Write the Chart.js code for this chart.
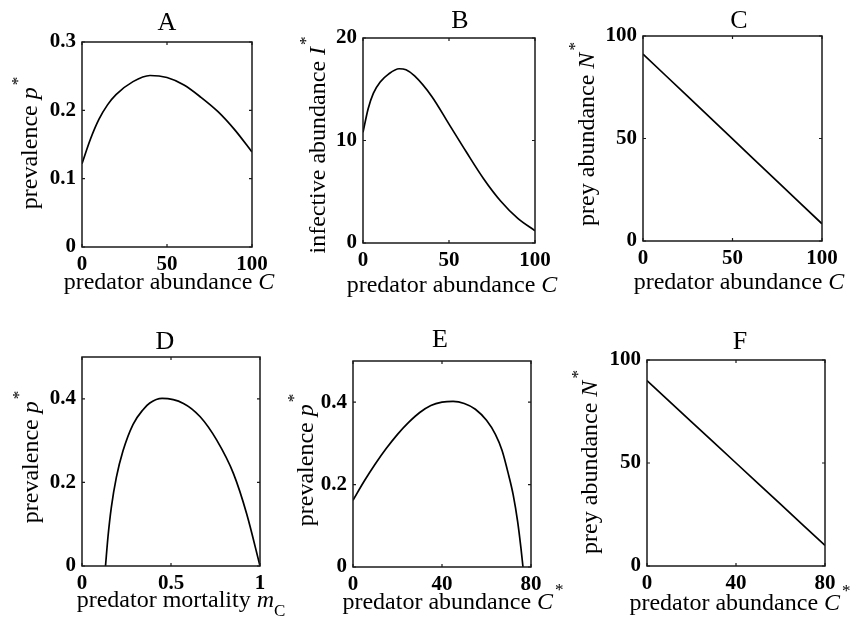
<!DOCTYPE html>
<html>
<head>
<meta charset="utf-8">
<script src="https://cdn.jsdelivr.net/npm/chart.js@4.4.1/dist/chart.umd.min.js"></script>
<style>
    html, body { margin: 0; padding: 0; background: #fff; }
    #wrap { position: relative; width: 859px; height: 623px; }
    #wrap canvas { position: absolute; left: 0; top: 0; }
</style>
</head>
<body>
<div id="wrap">
    <canvas id="pA" width="859" height="623"></canvas>
    <canvas id="pB" width="859" height="623"></canvas>
    <canvas id="pC" width="859" height="623"></canvas>
    <canvas id="pD" width="859" height="623"></canvas>
    <canvas id="pE" width="859" height="623"></canvas>
    <canvas id="pF" width="859" height="623"></canvas>
</div>
<script>
// A: prevalence vs predator abundance
const xA = [0, 5, 10, 15, 20, 30, 40, 50, 60, 70, 80, 90, 100];
const yA = [0.122, 0.158, 0.187, 0.208, 0.223, 0.242, 0.251, 0.248, 0.237, 0.219, 0.198, 0.171, 0.139];
// B: infective abundance vs predator abundance
const xB = [0, 3, 6, 10, 15, 21, 25, 30, 40, 50, 60, 70, 80, 90, 100];
const yB = [10.8, 13.1, 14.6, 15.7, 16.5, 17.0, 16.9, 16.3, 14.3, 11.6, 8.9, 6.3, 4.1, 2.4, 1.2];
// C: prey abundance vs predator abundance
const xC = [0, 25, 50, 75, 100];
const yC = [91.2, 70.5, 49.8, 29.1, 8.4];
// D: prevalence vs predator mortality
const xD = [0.132, 0.146, 0.165, 0.193, 0.23, 0.287, 0.343, 0.381, 0.45, 0.57, 0.664, 0.757, 0.851, 0.925, 1.0];
const yD = [0, 0.07, 0.141, 0.212, 0.275, 0.339, 0.374, 0.39, 0.401, 0.389, 0.357, 0.301, 0.221, 0.125, 0];
// E: prevalence vs equilibrium predator abundance
const xE = [0, 5, 10, 15, 20, 25, 30, 35, 40, 45, 50, 55, 60, 64, 67, 70, 72, 74, 75.5, 76.4];
const yE = [0.162, 0.208, 0.25, 0.288, 0.322, 0.351, 0.375, 0.392, 0.4, 0.402, 0.397, 0.383, 0.356, 0.322, 0.283, 0.222, 0.175, 0.11, 0.045, 0];
// F: prey abundance vs equilibrium predator abundance
const xF = [0, 20, 40, 60, 80];
const yF = [90, 70, 50, 30, 10];

// tick labels
const ticksX100 = [0, 50, 100];
const ticksX80 = [0, 40, 80];
const ticksXm = [0, 0.5, 1];
const ticksYA = [0, 0.1, 0.2, 0.3];
const ticksYB = [0, 10, 20];
const ticksY100 = [0, 50, 100];
const ticksYp = [0, 0.2, 0.4];

const SERIF = '"Liberation Serif", "Times New Roman", serif';
const Y_AXIS_W = 50;
const X_AXIS_H = 35;

// draws text made of pieces: n = normal, i = italic, sup / sub = small
function drawRich(ctx, segs, x, y, rotated) {
    const fonts = {
        n: '24px ' + SERIF,
        i: 'italic 24px ' + SERIF,
        sup: '17px ' + SERIF,
        sub: '17px ' + SERIF
    };
    let total = 0;
    segs.forEach(s => {
        ctx.font = fonts[s[1]];
        total += ctx.measureText(s[0]).width + (s[1] === 'sup' ? 2 : 0);
    });
    ctx.save();
    ctx.translate(x, y);
    if (rotated) ctx.rotate(-Math.PI / 2);
    ctx.textAlign = 'left';
    ctx.textBaseline = 'alphabetic';
    let cx = -total / 2;
    segs.forEach(s => {
        ctx.font = fonts[s[1]];
        let dy = 0;
        if (s[1] === 'sup') { dy = -14; cx += 2; }
        if (s[1] === 'sub') dy = 9;
        ctx.fillText(s[0], cx, dy);
        cx += ctx.measureText(s[0]).width;
    });
    ctx.restore();
}

const panelPlugin = {
    id: 'panel',
    afterDraw(chart, args, opts) {
        const ctx = chart.ctx;
        const a = chart.chartArea;
        const sx = chart.scales.x;
        const sy = chart.scales.y;
        ctx.save();
        ctx.strokeStyle = '#1a1a1a';
        ctx.lineWidth = 1.5;
        ctx.strokeRect(a.left, a.top, a.right - a.left, a.bottom - a.top);
        // inward ticks on all four sides
        ctx.lineWidth = 1.2;
        ctx.beginPath();
        sx.ticks.forEach(t => {
            const px = sx.getPixelForValue(t.value);
            ctx.moveTo(px, a.bottom); ctx.lineTo(px, a.bottom - 3);
            ctx.moveTo(px, a.top); ctx.lineTo(px, a.top + 3);
        });
        sy.ticks.forEach(t => {
            const py = sy.getPixelForValue(t.value);
            ctx.moveTo(a.left, py); ctx.lineTo(a.left + 3, py);
            ctx.moveTo(a.right, py); ctx.lineTo(a.right - 3, py);
        });
        ctx.stroke();

        ctx.fillStyle = '#000';
        ctx.font = '26px ' + SERIF;
        ctx.textAlign = 'center';
        ctx.textBaseline = 'alphabetic';
        ctx.fillText(opts.title, opts.titlePos[0], opts.titlePos[1]);
        drawRich(ctx, opts.xLabel, opts.xLabelPos[0], opts.xLabelPos[1], false);
        drawRich(ctx, opts.yLabel, opts.yLabelPos[0], opts.yLabelPos[1], true);
        ctx.restore();
    }
};

function makePanel(id, xs, ys, xTicks, yTicks, box, text) {
    const ctx = document.getElementById(id).getContext('2d');
    return new Chart(ctx, {
        type: 'line',
        data: {
            datasets: [{
                data: xs.map((x, i) => ({ x: x, y: ys[i] })),
                borderColor: '#000',
                borderWidth: 1.7,
                pointRadius: 0,
                fill: false,
                cubicInterpolationMode: 'monotone'
            }]
        },
        options: {
            responsive: false,
            animation: false,
            events: [],
            layout: {
                padding: {
                    left: box[0] - Y_AXIS_W,
                    top: box[2],
                    right: 859 - box[1],
                    bottom: 623 - box[3] - X_AXIS_H
                }
            },
            plugins: {
                legend: { display: false },
                tooltip: { enabled: false },
                panel: text
            },
            scales: {
                x: {
                    type: 'linear',
                    min: xTicks[0],
                    max: xTicks[xTicks.length - 1],
                    grid: { display: false, drawTicks: false },
                    border: { display: false },
                    afterFit: s => { s.height = X_AXIS_H; },
                    afterBuildTicks: s => { s.ticks = xTicks.map(v => ({ value: v })); },
                    ticks: {
                        autoSkip: false,
                        maxRotation: 0,
                        padding: 5,
                        color: '#000',
                        font: { family: SERIF, size: 21, weight: 'bold' },
                        callback: v => String(v)
                    }
                },
                y: {
                    type: 'linear',
                    min: yTicks[0],
                    max: box[4],
                    grid: { display: false, drawTicks: false },
                    border: { display: false },
                    afterFit: s => { s.width = Y_AXIS_W; },
                    afterBuildTicks: s => { s.ticks = yTicks.map(v => ({ value: v })); },
                    ticks: {
                        autoSkip: false,
                        padding: 6,
                        color: '#000',
                        font: { family: SERIF, size: 21, weight: 'bold' },
                        callback: v => String(v)
                    }
                }
            }
        },
        plugins: [panelPlugin]
    });
}

// box: left, right, top, bottom, y max
makePanel('pA', xA, yA, ticksX100, ticksYA, [82, 252, 42, 247, 0.3], {
    title: 'A', titlePos: [167, 30],
    xLabel: [['predator abundance ', 'n'], ['C', 'i']], xLabelPos: [169, 289],
    yLabel: [['prevalence ', 'n'], ['p', 'i'], ['*', 'sup']], yLabelPos: [37, 143]
});
makePanel('pB', xB, yB, ticksX100, ticksYB, [363, 535, 38, 243, 20], {
    title: 'B', titlePos: [460, 28],
    xLabel: [['predator abundance ', 'n'], ['C', 'i']], xLabelPos: [452, 292],
    yLabel: [['infective abundance ', 'n'], ['I', 'i'], ['*', 'sup']], yLabelPos: [325, 145]
});
makePanel('pC', xC, yC, ticksX100, ticksY100, [643, 822, 36, 241, 100], {
    title: 'C', titlePos: [739, 28],
    xLabel: [['predator abundance ', 'n'], ['C', 'i']], xLabelPos: [739, 289],
    yLabel: [['prey abundance ', 'n'], ['N', 'i'], ['*', 'sup']], yLabelPos: [594, 134]
});
makePanel('pD', xD, yD, ticksXm, ticksYp, [82, 260, 357, 566, 0.5], {
    title: 'D', titlePos: [165, 349],
    xLabel: [['predator mortality ', 'n'], ['m', 'i'], ['C', 'sub']], xLabelPos: [181, 607],
    yLabel: [['prevalence ', 'n'], ['p', 'i'], ['*', 'sup']], yLabelPos: [38, 457]
});
makePanel('pE', xE, yE, ticksX80, ticksYp, [353, 531, 361, 567, 0.5], {
    title: 'E', titlePos: [440, 347],
    xLabel: [['predator abundance ', 'n'], ['C', 'i'], ['*', 'sup']], xLabelPos: [453, 609],
    yLabel: [['prevalence ', 'n'], ['p', 'i'], ['*', 'sup']], yLabelPos: [313, 460]
});
makePanel('pF', xF, yF, ticksX80, ticksY100, [647, 825, 360, 566, 100], {
    title: 'F', titlePos: [740, 349],
    xLabel: [['predator abundance ', 'n'], ['C', 'i'], ['*', 'sup']], xLabelPos: [740, 610],
    yLabel: [['prey abundance ', 'n'], ['N', 'i'], ['*', 'sup']], yLabelPos: [597, 462]
});
</script>
</body>
</html>
